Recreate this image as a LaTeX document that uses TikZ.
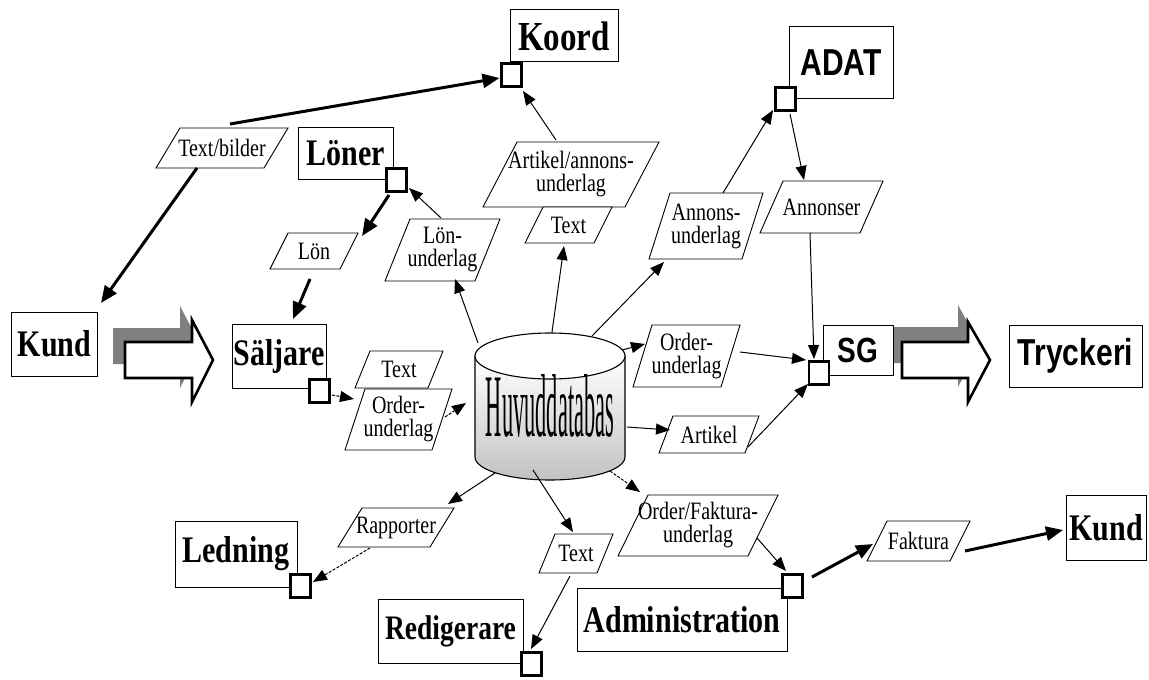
\documentclass[tikz,border=0pt]{standalone}
\usepackage{fontspec}
\usepackage{graphicx}
\setmainfont{Liberation Serif}
\newfontfamily\headsans{Liberation Sans}
\usetikzlibrary{arrows.meta}

% stretch text vertically, like the tall lettering of the chart
\newcommand\tall[1]{\scalebox{1}[1.25]{#1}}

% data-flow label: name, centre x, centre y, outer width, height, slant, text
\newcommand\dataflow[7]{%
  \path[para] (#2-#4/2+#6,#3-#5/2) -- (#2+#4/2,#3-#5/2) -- (#2+#4/2-#6,#3+#5/2) -- (#2-#4/2,#3+#5/2) -- cycle;
  \node[lbl] (#1) at (#2,#3) {#7};
}

\tikzset{
  box/.style={draw, line width=1bp, fill=white, inner sep=0pt},
  boxserif/.style={box, font=\fontsize{30bp}{30bp}\selectfont\bfseries},
  boxsans/.style={box, font=\fontsize{30bp}{30bp}\headsans\bfseries},
  port/.style={draw, line width=3bp, fill=white, minimum width=20bp, minimum height=23bp, inner sep=0pt},
  lbl/.style={inner sep=0pt, align=center, font=\fontsize{20bp}{23bp}\selectfont},
  para/.style={draw, line width=0.9bp, fill=white},
  heavy/.style={line width=3bp, -{Triangle[length=17bp,width=14bp]}},
  flow/.style={line width=1bp, -{Triangle[length=14bp,width=11bp]}},
  dotflow/.style={flow, dash pattern=on 3bp off 1.5bp},
  bigarrow/.style={draw, line width=2.6bp, fill=white, line join=miter},
  shadow/.style={fill=black!50},
}

\begin{document}
\begin{tikzpicture}[x=1bp, y=-1bp]
\fill[white] (0,0) rectangle (1149,680);
\useasboundingbox (0,0) rectangle (1149,680);

% broad flow arrows with their shadows
\fill[shadow] (113,328) -- (180,328) -- (180,306) -- (201,346) -- (180,388) -- (180,364) -- (113,364) -- cycle;
\path[bigarrow] (125,342) -- (192,342) -- (192,320) -- (213,360) -- (192,402) -- (192,378) -- (125,378) -- cycle;
\fill[shadow] (892,327) -- (958,327) -- (958,305) -- (980,345) -- (958,387) -- (958,363) -- (892,363) -- cycle;
\path[bigarrow] (902,342) -- (968,342) -- (968,322) -- (990,360) -- (968,402) -- (968,378) -- (902,378) -- cycle;

% main database cylinder
\shade[top color=white, middle color=black!6, bottom color=black!24, draw, line width=1.1bp]
  (475,356) -- (475,457) .. controls (475,469.7) and (508.6,480) .. (550,480)
  .. controls (591.4,480) and (625,469.7) .. (625,457) -- (625,356) -- cycle;
\draw[fill=white, line width=1.1bp] (550,356) ellipse [x radius=75bp, y radius=23bp];
\node[inner sep=0pt] (db) at (550,406) {\resizebox{128bp}{62bp}{Huvuddatabas}};

% actors
\node[boxserif, font=\fontsize{33bp}{33bp}\selectfont\bfseries, minimum width=108bp, minimum height=52bp] (koord) at (564,36) {\tall{Koord}};
\node[boxsans, minimum width=104bp, minimum height=72bp] (adat) at (841,63) {\tall{ADAT}};
\node[boxserif, minimum width=95bp, minimum height=51bp] (loner) at (345.5,153.5) {\tall{Löner}};
\node[boxserif, minimum width=85bp, minimum height=64bp] (kundL) at (54.5,344) {\tall{Kund}};
\node[boxserif, minimum width=94bp, minimum height=64bp] (salj) at (279,356) {\tall{Säljare}};
\node[boxsans, font=\fontsize{28bp}{28bp}\headsans\bfseries, minimum width=70bp, minimum height=50bp] (sg) at (858,350) {\tall{SG}};
\node[boxsans, minimum width=133bp, minimum height=62bp] (tryck) at (1075.5,356) {\tall{Tryckeri}};
\node[boxserif, minimum width=122bp, minimum height=66bp] (ledning) at (236,554) {\tall{Ledning}};
\node[boxserif, font=\fontsize{27.5bp}{28bp}\selectfont\bfseries, minimum width=145bp, minimum height=64bp] (redig) at (450.5,631) {\tall{Redigerare}};
\node[boxserif, minimum width=210bp, minimum height=63bp] (admin) at (682,619.5) {\tall{Administration}};
\node[boxserif, minimum width=80bp, minimum height=65bp] (kundR) at (1106,527.5) {\tall{Kund}};

% data flows
\dataflow{tb}{222}{148}{132}{40}{24}{\tall{Text/bilder}}
\dataflow{lon}{314}{251}{88}{36}{18}{\tall{Lön}}
\dataflow{lonu}{442.5}{250}{115}{62}{25}{\tall{Lön-}\\\tall{underlag}}
\dataflow{aau}{571}{174.5}{176}{65}{34}{\tall{Artikel/annons-}\\\tall{underlag}}
\dataflow{txt1}{568.5}{225}{87}{36}{18}{\tall{Text}}
\dataflow{anu}{706}{226}{114}{66}{21}{\tall{Annons-}\\\tall{underlag}}
\dataflow{ann}{821.5}{207}{123}{52}{23}{\tall{Annonser}}
\dataflow{ordr}{686.5}{356}{107}{62}{19}{\tall{Order-}\\\tall{underlag}}
\dataflow{art}{709}{434.5}{100}{37}{14}{\tall{Artikel}}
\dataflow{txt2}{399}{369.5}{88}{37}{15}{\tall{Text}}
\dataflow{ordl}{398.5}{419.5}{107}{61}{20}{\tall{Order-}\\\tall{underlag}}
\dataflow{rap}{396}{527.5}{116}{39}{24}{\tall{Rapporter}}
\dataflow{txt3}{576}{553.5}{74}{39}{16}{\tall{Text}}
\dataflow{ofu}{698}{525.5}{160}{61}{30}{\tall{Order/Faktura-}\\\tall{underlag}}
\dataflow{fak}{918.5}{541}{103}{40}{20}{\tall{Faktura}}

% ports on the actors
\node[port] (pKoord) at (511.5,75.5) {};
\node[port] (pAdat) at (785,99) {};
\node[port] (pLoner) at (396,180) {};
\node[port] (pSalj) at (319.5,390.5) {};
\node[port, line width=2.4bp] (pSG) at (819,373) {};
\node[port] (pLed) at (300,586) {};
\node[port] (pRed) at (531.5,664) {};
\node[port] (pAdm) at (792,585.5) {};

% connectors
\draw[heavy] ([shift={(8,-24)}]tb.center) -- ([shift={(-12,2.5)}]pKoord.center);
\draw[heavy] ([shift={(-25,20)}]tb.center) -- ([shift={(46.5,-41)}]kundL.center);
\draw[heavy] ([shift={(-7,15)}]pLoner.center) -- ([shift={(48,-15)}]lon.center);
\draw[heavy] ([shift={(-4,28)}]lon.center) -- ([shift={(14,-37)}]salj.center);
\draw[flow] ([shift={(-1.5,-32)}]lonu.center) -- ([shift={(13,8)}]pLoner.center);
\draw[flow] ([shift={(-72,-63)}]db.center) -- ([shift={(12.5,29)}]lonu.center);
\draw[flow] ([shift={(2,-74)}]db.center) -- ([shift={(-4.5,21)}]txt1.center);
\draw[flow] ([shift={(-15,-34.5)}]aau.center) -- ([shift={(11.5,15.5)}]pKoord.center);
\draw[flow] ([shift={(42,-70)}]db.center) -- ([shift={(-42,36)}]anu.center);
\draw[flow] ([shift={(17,-33)}]anu.center) -- ([shift={(-12,11)}]pAdat.center);
\draw[flow] ([shift={(5,15)}]pAdat.center) -- ([shift={(-17.5,-27)}]ann.center);
\draw[flow] ([shift={(-11.5,26)}]ann.center) -- ([shift={(-5,-14)}]pSG.center);
\draw[flow] ([shift={(53.5,-4)}]ordr.center) -- ([shift={(-13,-13)}]pSG.center);
\draw[flow] ([shift={(72,-56)}]db.center) -- ([shift={(-41.5,-12)}]ordr.center);
\draw[flow] ([shift={(77,21)}]db.center) -- ([shift={(-39,-4.5)}]art.center);
\draw[flow] ([shift={(39,12.5)}]art.center) -- ([shift={(-11,11)}]pSG.center);
\draw[dotflow] ([shift={(12.5,4.5)}]pSalj.center) -- ([shift={(-44.5,-20.5)}]ordl.center);
\draw[dotflow] ([shift={(46.5,-2.5)}]ordl.center) -- ([shift={(-84,-3)}]db.center);
\draw[flow] ([shift={(-55,67)}]db.center) -- ([shift={(52,-23.5)}]rap.center);
\draw[dotflow] ([shift={(-26,20.5)}]rap.center) -- ([shift={(13,-4)}]pLed.center);
\draw[flow] ([shift={(-17,64)}]db.center) -- ([shift={(-3,-21.5)}]txt3.center);
\draw[flow] ([shift={(-6,22.5)}]txt3.center) -- ([shift={(-0.5,-15)}]pRed.center);
\draw[dotflow] ([shift={(60,65)}]db.center) -- ([shift={(-58,-33.5)}]ofu.center);
\draw[flow] ([shift={(59,12.5)}]ofu.center) -- ([shift={(-6,-14.5)}]pAdm.center);
\draw[heavy] ([shift={(20,-8.5)}]pAdm.center) -- ([shift={(-45.5,3)}]fak.center);
\draw[heavy] ([shift={(46.5,10)}]fak.center) -- ([shift={(-43,2.5)}]kundR.center);
\end{tikzpicture}
\end{document}
